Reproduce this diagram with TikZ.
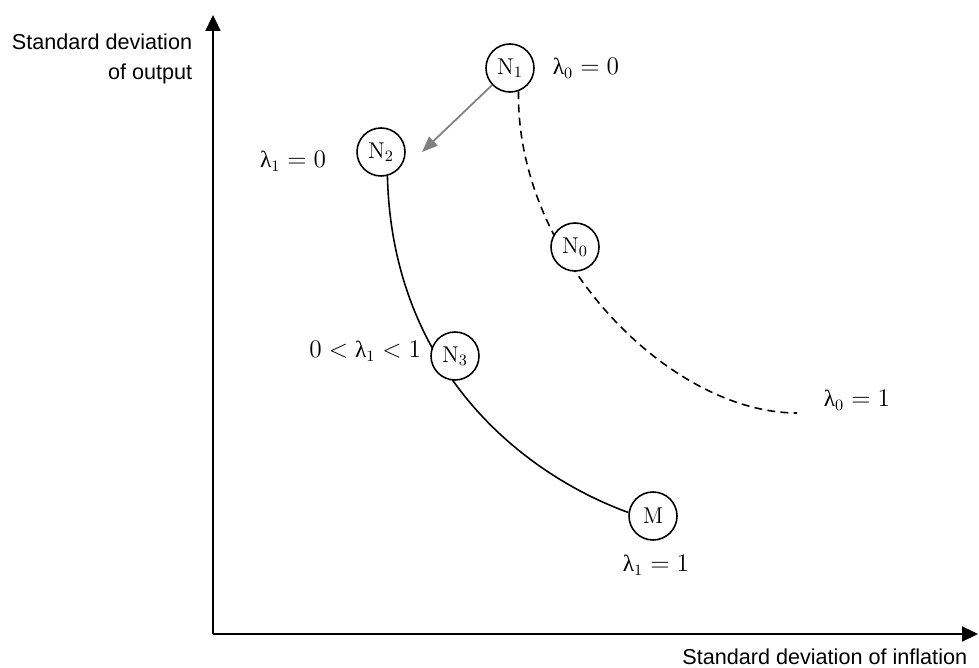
\documentclass[tikz,border=0pt]{standalone}
\usepackage{fontspec}
\setsansfont{Liberation Sans}
\newfontfamily\lamfont{Liberation Serif}
\usetikzlibrary{arrows.meta,backgrounds}
\definecolor{arrgray}{RGB}{128,128,128}
\newcommand{\lam}{\mbox{\lamfont λ}}

\begin{document}
\begin{tikzpicture}[x=0.02cm,y=0.02cm,line width=1pt,
  eq/.style={circle,draw,fill=white,line width=0.9pt,minimum size=0.96cm,inner sep=0pt,font=\fontsize{13}{15}\selectfont},
  lab/.style={font=\fontsize{13.3}{15}\selectfont,inner sep=0pt},
  axlab/.style={font=\sffamily\fontsize{12.3}{14}\selectfont,inner sep=0pt},
  curve/.style={line width=0.9pt},
  dashline/.style={curve,dash pattern=on 4.5pt off 3pt}]
  \useasboundingbox (0,0) rectangle (979,668);
  \coordinate (O) at (213,34);
  \coordinate (Ytop) at (213,653);
  \coordinate (Xend) at (978,34);
  \coordinate (lamEnd) at (797,255);
  \coordinate (arrTip) at (422,516);
  \draw[-{Triangle[length=9pt,width=8.5pt]}] (O) -- (Ytop);
  \draw[-{Triangle[length=9pt,width=8.5pt]}] (O) -- (Xend);
  \node[eq] (N1) at (510,600) {$\mathrm{N}_1$};
  \node[eq] (N2) at (381,516) {$\mathrm{N}_2$};
  \node[eq] (N0) at (575,421) {$\mathrm{N}_0$};
  \node[eq] (N3) at (455,312) {$\mathrm{N}_3$};
  \node[eq] (M) at (653,152) {M};
  \begin{scope}[on background layer]
    \draw[dashline] (N1.290) .. controls (516,410) and (670,255) .. (lamEnd);
    \draw[curve] (N2.285) .. controls (392,300) and (520,195) .. (M.172);
  \end{scope}
  \draw[arrgray,-{Triangle[length=9pt,width=7pt]}] (N1) -- (arrTip);
  \node[lab,anchor=base west] (l00) at (552,593) {$\lam_0 = 0$};
  \node[lab,anchor=base east] (l10) at (327,500) {$\lam_1 = 0$};
  \node[lab,anchor=base east] (l1m) at (422,310) {$0 < \lam_1 < 1$};
  \node[lab,anchor=base west] (l11) at (622,96) {$\lam_1 = 1$};
  \node[lab,anchor=base west] (l01) at (823,261) {$\lam_0 = 1$};
  \node[axlab,anchor=base east] (ylabA) at (193,618) {Standard deviation};
  \node[axlab,anchor=base east] (ylabB) at (193,588) {of output};
  \node[axlab,anchor=base east] (xlab) at (968,3) {Standard deviation of inflation};
\end{tikzpicture}
\end{document}
